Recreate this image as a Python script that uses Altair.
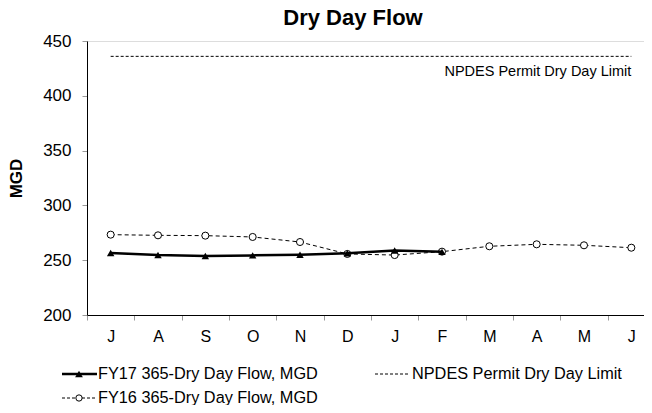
import altair as alt
import pandas as pd

months = ["Jul", "Aug", "Sep", "Oct", "Nov", "Dec", "Jan", "Feb", "Mar", "Apr", "May", "Jun"]
fy17_values = [256.6, 254.7, 253.9, 254.4, 255.0, 256.3, 258.8, 257.6]
fy16_values = [273.3, 272.7, 272.4, 271.2, 266.6, 255.7, 254.7, 257.8, 262.7, 264.5, 263.6, 261.4]
limit_value = 436
y_ticks = [200, 250, 300, 350, 400, 450]

label_fy17 = "FY17 365-Dry Day Flow, MGD"
label_fy16 = "FY16 365-Dry Day Flow, MGD"
label_limit = "NPDES Permit Dry Day Limit"

FONT = "Liberation Sans"
PLOT_W = 557      # visible width of the chart area inside the page
X_RANGE = 568     # the category axis runs on slightly past the page edge, as in the reference

df17 = pd.DataFrame({"month": months[:len(fy17_values)], "value": fy17_values})
df16 = pd.DataFrame({"month": months, "value": fy16_values})
dflim = pd.DataFrame({"month": months, "value": [limit_value] * len(months)})
dflab = pd.DataFrame({"month": [months[-1]], "value": [limit_value], "text": [label_limit]})

xscale = alt.Scale(type="band", domain=months, paddingInner=0, paddingOuter=0, range=[0, X_RANGE])
x_enc = alt.X(
    "month:N", sort=months, scale=xscale,
    axis=alt.Axis(
        title=None, labelExpr="substring(datum.label, 0, 1)", tickBand="extent",
        domainColor="black", tickColor="#999999", tickSize=5, labelPadding=8,
        labelFontSize=16, labelColor="black", labelFont=FONT, labelAngle=0, grid=False,
    ),
)
yscale = alt.Scale(domain=[200, 450], nice=False, zero=False)
y_enc = alt.Y(
    "value:Q", scale=yscale,
    axis=alt.Axis(
        title="MGD", values=y_ticks, domainColor="black", tickColor="#999999",
        tickSize=5, labelPadding=11, labelFontSize=17, labelColor="black",
        labelFont=FONT, grid=False, titleFont=FONT, titleFontSize=17,
        titleFontWeight="bold", titleColor="black", titlePadding=17,
    ),
)

base_x = alt.X("month:N", sort=months, scale=xscale)
base_y = alt.Y("value:Q", scale=yscale)

limit_line = alt.Chart(dflim).mark_line(color="black", strokeWidth=1, strokeDash=[3, 2]).encode(x=x_enc, y=y_enc)
limit_text = alt.Chart(dflab).mark_text(
    align="right", baseline="middle", dy=16, font=FONT, fontSize=14.5, color="black"
).encode(x=base_x, y=base_y, text="text:N")

fy16_line = alt.Chart(df16).mark_line(color="black", strokeWidth=1, strokeDash=[4, 3]).encode(x=base_x, y=base_y)
fy16_pts = alt.Chart(df16).mark_point(
    shape="circle", filled=True, fill="white", stroke="black", strokeWidth=1, size=50, opacity=1
).encode(x=base_x, y=base_y)

fy17_line = alt.Chart(df17).mark_line(color="black", strokeWidth=2.5).encode(x=base_x, y=base_y)
fy17_pts = alt.Chart(df17).mark_point(
    shape="triangle-up", filled=True, color="black", size=55, opacity=1
).encode(x=base_x, y=base_y)

# Legend (drawn below the plot)
leg = pd.DataFrame({"k": [0]})
r1, r2 = 333, 357
LEG_FS = 16.3
legend_layers = [
    alt.Chart(leg).mark_rule(color="black", strokeWidth=2.5).encode(
        x=alt.value(-25), x2=alt.value(10), y=alt.value(r1)),
    alt.Chart(leg).mark_point(shape="triangle-up", filled=True, color="black", size=60, opacity=1).encode(
        x=alt.value(-8), y=alt.value(r1)),
    alt.Chart(leg).mark_text(align="left", baseline="middle", font=FONT, fontSize=LEG_FS, color="black").encode(
        x=alt.value(11), y=alt.value(r1), text=alt.value(label_fy17)),
    alt.Chart(leg).mark_rule(color="black", strokeWidth=1, strokeDash=[3, 2]).encode(
        x=alt.value(288), x2=alt.value(322), y=alt.value(r1)),
    alt.Chart(leg).mark_text(align="left", baseline="middle", font=FONT, fontSize=LEG_FS, color="black").encode(
        x=alt.value(325), y=alt.value(r1), text=alt.value(label_limit)),
    alt.Chart(leg).mark_rule(color="black", strokeWidth=1, strokeDash=[3, 2]).encode(
        x=alt.value(-25), x2=alt.value(10), y=alt.value(r2)),
    alt.Chart(leg).mark_point(shape="circle", filled=True, fill="white", stroke="black", strokeWidth=1, size=40, opacity=1).encode(
        x=alt.value(-8), y=alt.value(r2)),
    alt.Chart(leg).mark_text(align="left", baseline="middle", font=FONT, fontSize=LEG_FS, color="black").encode(
        x=alt.value(11), y=alt.value(r2), text=alt.value(label_fy16)),
]

chart = alt.layer(
    limit_line, limit_text, fy16_line, fy16_pts, fy17_line, fy17_pts, *legend_layers
).properties(
    width=PLOT_W, height=274,
    title=alt.TitleParams("Dry Day Flow", font=FONT, fontSize=22, fontWeight="bold",
                          color="black", anchor="middle", frame="group", offset=2,
                          dx=353 - 87 - PLOT_W / 2),
    autosize=alt.AutoSizeParams(type="none"),
    padding={"left": 79, "top": 33, "right": 0, "bottom": 90},
).configure_view(stroke=None).configure(background="white")

chart.save("out.html", embed_options={"renderer": "svg", "actions": False})
